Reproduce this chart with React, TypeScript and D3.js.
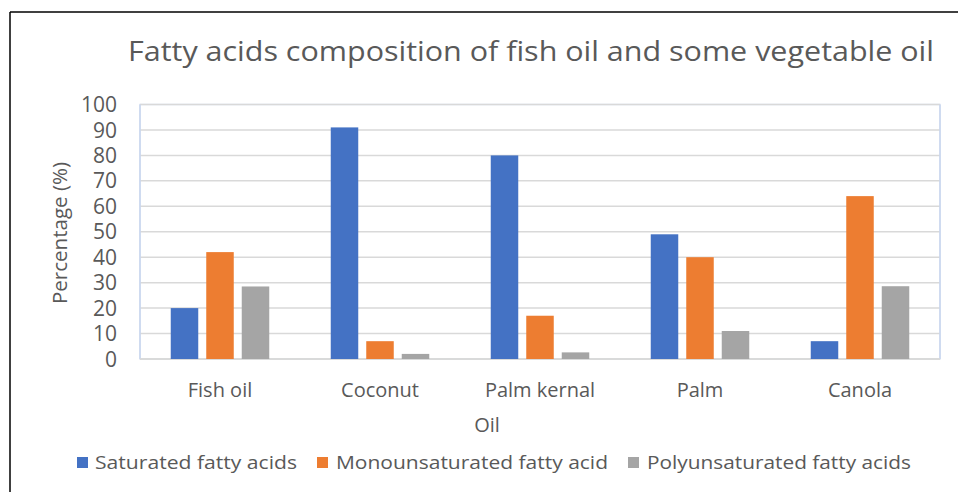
import React from "react";
import * as d3 from "d3";

const categories = ["Fish oil", "Coconut", "Palm kernal", "Palm", "Canola"];
const seriesNames = ["Saturated fatty acids", "Monounsaturated fatty acid", "Polyunsaturated fatty acids"];
const saturated = [20, 91, 80, 49, 7];
const monounsaturated = [42, 7, 17, 40, 64];
const polyunsaturated = [28.5, 2, 2.6, 11, 28.6];
const colors = ["#4472C4", "#ED7D31", "#A5A5A5"];
const yTicks = [0, 10, 20, 30, 40, 50, 60, 70, 80, 90, 100];

const W = 958;
const H = 492;
const plot = { left: 140, right: 940, top: 104.5, bottom: 359 };

export default function App() {
  const series = [saturated, monounsaturated, polyunsaturated];
  const x = d3.scaleBand<string>().domain(categories).range([plot.left, plot.right]).paddingInner(0).paddingOuter(0);
  const y = d3.scaleLinear().domain([0, 100]).range([plot.bottom, plot.top]);
  const bw = 27.5;
  const gap = 8;
  const groupW = bw * 3 + gap * 2;
  const font = "'Open Sans', 'Liberation Sans', sans-serif";
  const textColor = "#595959";

  const legendItems = [
    { sx: 77, tx: 95, len: 202 },
    { sx: 317, tx: 336, len: 272 },
    { sx: 628, tx: 647, len: 264 },
  ];

  return (
    <svg width={W} height={H} style={{ position: "absolute", left: 0, top: 0, background: "#fff" }}>
      <rect x={0} y={0} width={W} height={H} fill="#fff" />
      {/* outer frame */}
      <line x1={10} y1={12} x2={W} y2={12} stroke="#000" strokeWidth={1.5} />
      <line x1={10} y1={12} x2={10} y2={H} stroke="#000" strokeWidth={1.5} />

      {/* title */}
      <text x={531} y={61} textAnchor="middle" fontFamily={font} fontSize={27} fill={textColor} textLength={806} lengthAdjust="spacingAndGlyphs">
        Fatty acids composition of fish oil and some vegetable oil
      </text>

      {/* plot area frame */}
      <rect x={plot.left} y={plot.top} width={plot.right - plot.left} height={plot.bottom - plot.top} fill="none" stroke="#dce4f2" strokeWidth={1.5} />

      {/* gridlines */}
      {yTicks.map((t) => (
        <line key={t} x1={plot.left} x2={plot.right} y1={y(t)} y2={y(t)} stroke="#d9d9d9" strokeWidth={1.5} />
      ))}
      <line x1={plot.left} x2={plot.left} y1={plot.top} y2={plot.bottom} stroke="#c9d6ee" strokeWidth={1.5} />
      <line x1={plot.right} x2={plot.right} y1={plot.top} y2={plot.bottom} stroke="#c9d6ee" strokeWidth={1.5} />
      <line x1={plot.left} x2={plot.right} y1={plot.bottom} y2={plot.bottom} stroke="#d9d9d9" strokeWidth={1.5} />

      {/* bars */}
      {categories.map((c, i) => {
        const cx = (x(c) as number) + x.bandwidth() / 2;
        const start = cx - groupW / 2;
        return series.map((s, k) => (
          <rect
            key={c + k}
            x={start + k * (bw + gap)}
            y={y(s[i])}
            width={bw}
            height={y(0) - y(s[i])}
            fill={colors[k]}
          />
        ));
      })}

      {/* y tick labels */}
      {yTicks.map((t) => (
        <text key={t} x={117} y={y(t)} dy="0.36em" textAnchor="end" fontFamily={font} fontSize={21} fill={textColor}>
          {t}
        </text>
      ))}

      {/* y axis title */}
      <text transform={`translate(67,233) rotate(-90)`} textAnchor="middle" fontFamily={font} fontSize={20} fill={textColor} textLength={142} lengthAdjust="spacingAndGlyphs">
        Percentage (%)
      </text>

      {/* category labels */}
      {categories.map((c) => (
        <text key={c} x={(x(c) as number) + x.bandwidth() / 2} y={397} textAnchor="middle" fontFamily={font} fontSize={20} fill={textColor}>
          {c}
        </text>
      ))}

      {/* x axis title */}
      <text x={487} y={432} textAnchor="middle" fontFamily={font} fontSize={20} fill={textColor}>
        Oil
      </text>

      {/* legend */}
      {seriesNames.map((n, k) => (
        <g key={n}>
          <rect x={legendItems[k].sx} y={457} width={11} height={11} fill={colors[k]} />
          <text x={legendItems[k].tx} y={469} fontFamily={font} fontSize={19} fill={textColor} textLength={legendItems[k].len} lengthAdjust="spacingAndGlyphs">
            {n}
          </text>
        </g>
      ))}
    </svg>
  );
}
